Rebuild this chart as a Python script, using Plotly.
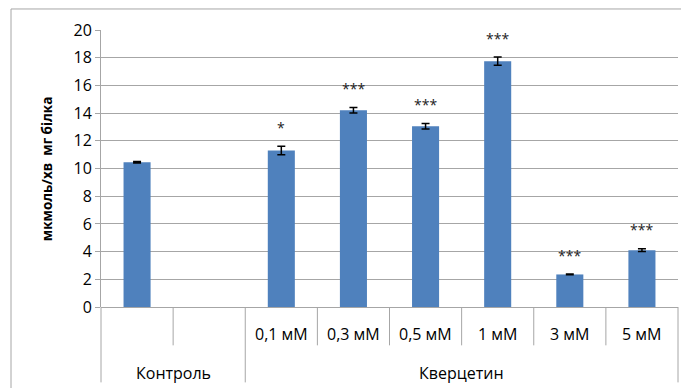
import plotly.graph_objects as go

# ---- data ----
sub_labels = ["", "", "0,1 мМ", "0,3 мМ", "0,5 мМ", "1 мМ", "3 мМ", "5 мМ"]
groups = ["Контроль", "Кверцетин"]
group_spans = [(0, 1), (2, 7)]
values = [10.45, None, 11.3, 14.2, 13.05, 17.75, 2.35, 4.1]
errors = [0.05, None, 0.3, 0.2, 0.2, 0.3, 0.03, 0.1]
stars = ["", "", "*", "***", "***", "***", "***", "***"]
y_title = "мкмоль/хв  мг білка"

# ---- layout geometry (page body has an 8px margin) ----
OFF = 8
WIN_W, WIN_H = 689, 388
W, H = WIN_W - OFF, WIN_H - OFF
L, R, T, B = 101 - OFF, WIN_W - 678, 30 - OFF, WIN_H - 306.7
plot_w = W - L - R
plot_h = H - T - B
n = len(sub_labels)
FONT = "Open Sans"
GRAY = "#A6A6A6"


def py(p):
    # window pixel row -> paper fraction
    return (WIN_H - B - p) / plot_h


def px(p):
    # window pixel column -> paper fraction
    return (p - OFF - L) / plot_w


x = list(range(n))
fig = go.Figure()
fig.add_trace(go.Bar(
    x=x, y=values, width=0.375,
    marker=dict(color="#4F81BD", line=dict(width=0)),
    error_y=dict(type="data", array=errors, visible=True,
                 color="black", thickness=1.5, width=4),
))

shapes = []
# outer chart border
shapes.append(dict(type="rect", xref="paper", yref="paper",
                   x0=px(11), x1=px(WIN_W + 5), y0=py(WIN_H + 5), y1=py(9),
                   line=dict(color=GRAY, width=1)))
# category table lines
group_bounds = set()
for a, b in group_spans:
    group_bounds.add(a)
    group_bounds.add(b + 1)
for k in range(n + 1):
    bottom = 382 if k in group_bounds else 345
    shapes.append(dict(type="line", xref="paper", yref="paper",
                       x0=k / n, x1=k / n, y0=0, y1=py(bottom),
                       line=dict(color=GRAY, width=1)))

annotations = []
for i, lab in enumerate(sub_labels):
    if lab:
        annotations.append(dict(x=i, xref="x", y=py(334), yref="paper",
                                xanchor="center", yanchor="middle",
                                text=lab, showarrow=False,
                                font=dict(family=FONT, size=16, color="black")))
for g, (a, b) in zip(groups, group_spans):
    annotations.append(dict(x=(a + b) / 2, xref="x", y=py(373), yref="paper",
                            xanchor="center", yanchor="middle",
                            text=g, showarrow=False,
                            font=dict(family=FONT, size=16, color="black")))
for i, s in enumerate(stars):
    if s and values[i] is not None:
        annotations.append(dict(x=i, xref="x", y=values[i] + errors[i], yref="y",
                                text=s, showarrow=False, yanchor="middle",
                                yshift=19,
                                font=dict(family=FONT, size=14, color="#222")))
annotations.append(dict(x=px(47), y=py(169), xref="paper", yref="paper",
                        xanchor="center", yanchor="middle",
                        text="<b>" + y_title + "</b>", textangle=-90,
                        showarrow=False,
                        font=dict(family=FONT, size=13.5, color="black")))

fig.update_layout(
    width=W, height=H,
    margin=dict(l=L, r=R, t=T, b=B, pad=0),
    paper_bgcolor="white", plot_bgcolor="white",
    showlegend=False,
    shapes=shapes, annotations=annotations,
    xaxis=dict(range=[-0.5, n - 0.5], showticklabels=False, showgrid=False,
               zeroline=False, showline=False, ticks=""),
    yaxis=dict(range=[0, 20], dtick=2, showgrid=True, gridcolor=GRAY,
               gridwidth=1, zeroline=True, zerolinecolor=GRAY, zerolinewidth=1,
               showline=True, linecolor=GRAY, linewidth=1,
               ticks="outside", ticklen=5, tickcolor=GRAY,
               tickfont=dict(family=FONT, size=16, color="black")),
)

fig.write_html("out.html")
